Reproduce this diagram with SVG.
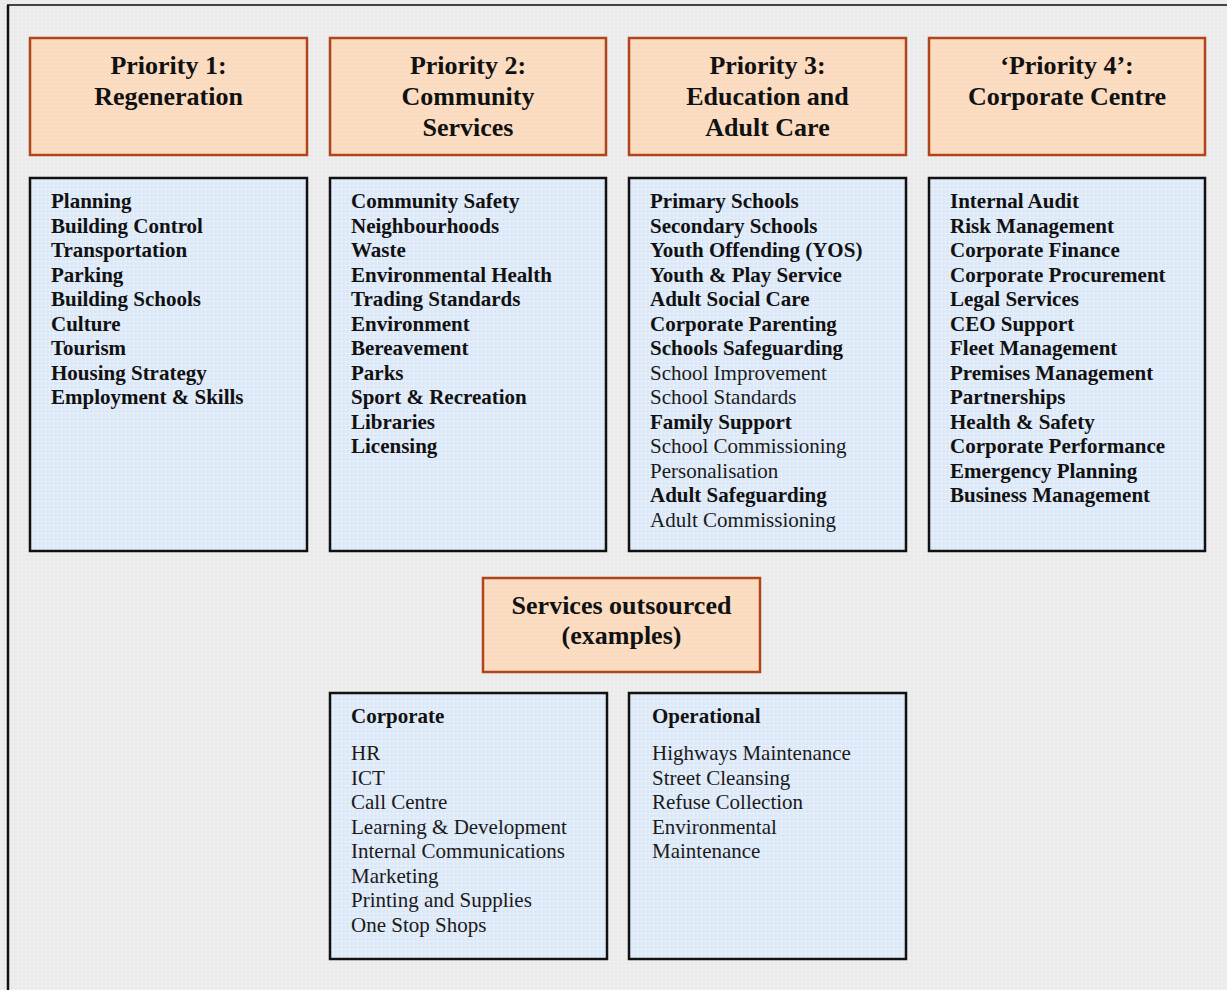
<svg xmlns="http://www.w3.org/2000/svg" width="1227" height="990" viewBox="0 0 1227 990">
  <defs>
    <!-- dotted page texture -->
    <pattern id="dots" width="4" height="4" patternUnits="userSpaceOnUse">
      <rect width="4" height="4" fill="#ebebeb"/>
      <rect x="1" y="1" width="1.2" height="1.2" fill="#fafafa"/>
    </pattern>
    <!-- peach header texture -->
    <pattern id="peach" width="4" height="4" patternUnits="userSpaceOnUse">
      <rect width="4" height="4" fill="#fadbbf"/>
      <rect x="1" y="1" width="1.2" height="1.2" fill="#fde7d3"/>
    </pattern>
    <!-- light blue list texture -->
    <pattern id="blue" width="4" height="4" patternUnits="userSpaceOnUse">
      <rect width="4" height="4" fill="#dae7f7"/>
      <rect x="1" y="0" width="1" height="4" fill="#e6effa"/>
      <rect x="0" y="1" width="4" height="1" fill="#e6effa"/>
    </pattern>
  </defs>
  <style>
    .head { fill: url(#peach); stroke: #b0451b; stroke-width: 2.5; }
    .list { fill: url(#blue); stroke: #111; stroke-width: 2.5; }
    .ht { font-family: "Liberation Serif", "Times New Roman", serif; font-weight: bold; font-size: 26px; fill: #111; text-anchor: middle; }
    .b { font-family: "Liberation Serif", "Times New Roman", serif; font-weight: bold; font-size: 21px; fill: #111; }
    .r { font-family: "Liberation Serif", "Times New Roman", serif; font-size: 21px; fill: #1a1a1a; }
  </style>

  <rect width="1227" height="990" fill="url(#dots)"/>
  <!-- page frame -->
  <line x1="7" y1="5" x2="1227" y2="5" stroke="#444" stroke-width="2"/>
  <line x1="8" y1="5" x2="8" y2="990" stroke="#111" stroke-width="2.5"/>

  <g id="priority1">
    <rect class="head" x="30" y="38" width="277" height="117"/>
    <text class="ht" x="168.5" y="74">Priority 1:</text>
    <text class="ht" x="168.5" y="105">Regeneration</text>
  </g>
  <g id="priority2">
    <rect class="head" x="330" y="38" width="276" height="117"/>
    <text class="ht" x="468" y="74">Priority 2:</text>
    <text class="ht" x="468" y="105">Community</text>
    <text class="ht" x="468" y="136">Services</text>
  </g>
  <g id="priority3">
    <rect class="head" x="629" y="38" width="277" height="117"/>
    <text class="ht" x="767.5" y="74">Priority 3:</text>
    <text class="ht" x="767.5" y="105">Education and</text>
    <text class="ht" x="767.5" y="136">Adult Care</text>
  </g>
  <g id="priority4">
    <rect class="head" x="929" y="38" width="276" height="117"/>
    <text class="ht" x="1067" y="74">‘Priority 4’:</text>
    <text class="ht" x="1067" y="105">Corporate Centre</text>
  </g>

  <g id="regeneration-services">
    <rect class="list" x="30" y="178" width="277" height="373"/>
    <text class="b" x="51" y="208">Planning</text>
    <text class="b" x="51" y="232.5">Building Control</text>
    <text class="b" x="51" y="257">Transportation</text>
    <text class="b" x="51" y="281.5">Parking</text>
    <text class="b" x="51" y="306">Building Schools</text>
    <text class="b" x="51" y="330.5">Culture</text>
    <text class="b" x="51" y="355">Tourism</text>
    <text class="b" x="51" y="379.5">Housing Strategy</text>
    <text class="b" x="51" y="404">Employment &amp; Skills</text>
  </g>
  <g id="community-services">
    <rect class="list" x="330" y="178" width="276" height="373"/>
    <text class="b" x="351" y="208">Community Safety</text>
    <text class="b" x="351" y="232.5">Neighbourhoods</text>
    <text class="b" x="351" y="257">Waste</text>
    <text class="b" x="351" y="281.5">Environmental Health</text>
    <text class="b" x="351" y="306">Trading Standards</text>
    <text class="b" x="351" y="330.5">Environment</text>
    <text class="b" x="351" y="355">Bereavement</text>
    <text class="b" x="351" y="379.5">Parks</text>
    <text class="b" x="351" y="404">Sport &amp; Recreation</text>
    <text class="b" x="351" y="428.5">Libraries</text>
    <text class="b" x="351" y="453">Licensing</text>
  </g>
  <g id="education-services">
    <rect class="list" x="629" y="178" width="277" height="373"/>
    <text class="b" x="650" y="208">Primary Schools</text>
    <text class="b" x="650" y="232.5">Secondary Schools</text>
    <text class="b" x="650" y="257">Youth Offending (YOS)</text>
    <text class="b" x="650" y="281.5">Youth &amp; Play Service</text>
    <text class="b" x="650" y="306">Adult Social Care</text>
    <text class="b" x="650" y="330.5">Corporate Parenting</text>
    <text class="b" x="650" y="355">Schools Safeguarding</text>
    <text class="r" x="650" y="379.5">School Improvement</text>
    <text class="r" x="650" y="404">School Standards</text>
    <text class="b" x="650" y="428.5">Family Support</text>
    <text class="r" x="650" y="453">School Commissioning</text>
    <text class="r" x="650" y="477.5">Personalisation</text>
    <text class="b" x="650" y="502">Adult Safeguarding</text>
    <text class="r" x="650" y="526.5">Adult Commissioning</text>
  </g>
  <g id="corporate-centre-services">
    <rect class="list" x="929" y="178" width="276" height="373"/>
    <text class="b" x="950" y="208">Internal Audit</text>
    <text class="b" x="950" y="232.5">Risk Management</text>
    <text class="b" x="950" y="257">Corporate Finance</text>
    <text class="b" x="950" y="281.5">Corporate Procurement</text>
    <text class="b" x="950" y="306">Legal Services</text>
    <text class="b" x="950" y="330.5">CEO Support</text>
    <text class="b" x="950" y="355">Fleet Management</text>
    <text class="b" x="950" y="379.5">Premises Management</text>
    <text class="b" x="950" y="404">Partnerships</text>
    <text class="b" x="950" y="428.5">Health &amp; Safety</text>
    <text class="b" x="950" y="453">Corporate Performance</text>
    <text class="b" x="950" y="477.5">Emergency Planning</text>
    <text class="b" x="950" y="502">Business Management</text>
  </g>

  <g id="outsourced">
    <rect class="head" x="483" y="578" width="277" height="94"/>
    <text class="ht" x="621.5" y="614">Services outsourced</text>
    <text class="ht" x="621.5" y="644">(examples)</text>
  </g>
  <g id="outsourced-corporate">
    <rect class="list" x="330" y="693" width="277" height="266"/>
    <text class="b" x="351" y="723">Corporate</text>
    <text class="r" x="351" y="760">HR</text>
    <text class="r" x="351" y="784.5">ICT</text>
    <text class="r" x="351" y="809">Call Centre</text>
    <text class="r" x="351" y="833.5">Learning &amp; Development</text>
    <text class="r" x="351" y="858">Internal Communications</text>
    <text class="r" x="351" y="882.5">Marketing</text>
    <text class="r" x="351" y="907">Printing and Supplies</text>
    <text class="r" x="351" y="931.5">One Stop Shops</text>
  </g>
  <g id="outsourced-operational">
    <rect class="list" x="629" y="693" width="277" height="266"/>
    <text class="b" x="652" y="723">Operational</text>
    <text class="r" x="652" y="760">Highways Maintenance</text>
    <text class="r" x="652" y="784.5">Street Cleansing</text>
    <text class="r" x="652" y="809">Refuse Collection</text>
    <text class="r" x="652" y="833.5">Environmental</text>
    <text class="r" x="652" y="858">Maintenance</text>
  </g>

  <!-- no connectors are drawn between the boxes -->
  <g id="connectors"/>
</svg>
